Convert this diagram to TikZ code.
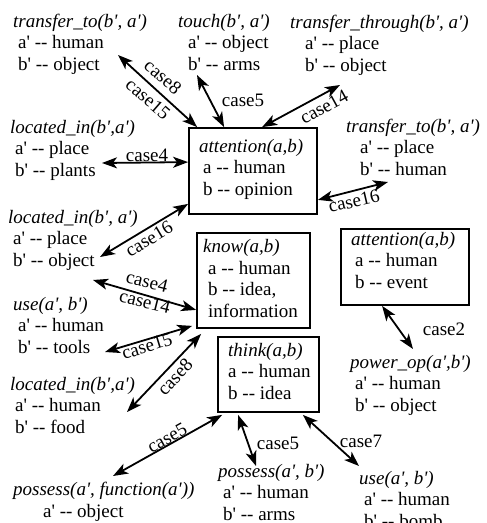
\documentclass[tikz,border=0pt]{standalone}
\usepackage{fontspec}
\setmainfont{Liberation Serif}[Ligatures=TeXOff]
\usetikzlibrary{arrows.meta,calc}

% a multi-line node's base anchor sits on its last line, so each text
% block below is placed by the baseline of its bottom line
\tikzset{
  txt/.style={anchor=base west, align=left, inner sep=0pt,
    font=\fontsize{19}{21.5}\selectfont},
  lbl/.style={inner sep=0pt, font=\fontsize{19}{21.5}\selectfont},
  frame/.style={draw, line width=1.8pt, inner sep=0pt},
  link/.style={line width=1.8pt,
    {Stealth[length=15pt,width=11pt,inset=4pt]}-{Stealth[length=15pt,width=11pt,inset=4pt]}},
}
\newcommand\fn[1]{\textit{#1}}
\newcommand\ind[1]{\hspace*{#1pt}}

\begin{document}
\begin{tikzpicture}[x=1pt,y=-1pt]
\useasboundingbox[fill=white] (0,0) rectangle (487,523);

% framed concept boxes
\node[frame, minimum width=128pt, minimum height=86pt] (att)   at (253,171)   {};
\node[frame, minimum width=113pt, minimum height=95pt] (know)  at (253.5,280.5) {};
\node[frame, minimum width=128pt, minimum height=76pt] (att2)  at (405,267)   {};
\node[frame, minimum width=101pt, minimum height=75pt] (think) at (268.5,374.5) {};

% box contents
\node[txt] (attT)   at (199,195) {\fn{attention(a,b)}\\\ind{4}a -- human\\\ind{4}b -- opinion};
\node[txt] (knowT)  at (203,317) {\fn{know(a,b)}\\\ind{5}a -- human\\\ind{5}b -- idea,\\\ind{5}information};
\node[txt] (att2T)  at (351,288) {\fn{attention(a,b)}\\\ind{4}a -- human\\\ind{4}b -- event};
\node[txt] (thinkT) at (228,399) {\fn{think(a,b)}\\a -- human\\b -- idea};

% surrounding relations
\node[txt] (t1)  at (13,70)   {\fn{transfer\_to(b', a')}\\\ind{5}a' -- human\\\ind{5}b' -- object};
\node[txt] (t2)  at (178,70)  {\fn{touch(b', a')}\\\ind{10}a' -- object\\\ind{10}b' -- arms};
\node[txt] (t3)  at (290,71)  {\fn{transfer\_through(b', a')}\\\ind{15}a' -- place\\\ind{15}b' -- object};
\node[txt] (t4)  at (10,176)  {\fn{located\_in(b',a')}\\\ind{5}a' -- place\\\ind{5}b' -- plants};
\node[txt] (t5)  at (346,175) {\fn{transfer\_to(b', a')}\\\ind{14}a' -- place\\\ind{14}b' -- human};
\node[txt] (t6)  at (8,266)   {\fn{located\_in(b', a')}\\\ind{5}a' -- place\\\ind{5}b' -- object};
\node[txt] (t7)  at (13,353)  {\fn{use(a', b')}\\\ind{5}a' -- human\\\ind{5}b' -- tools};
\node[txt] (t8)  at (10,433)  {\fn{located\_in(b',a')}\\\ind{5}a' -- human\\\ind{5}b' -- food};
\node[txt] (t9)  at (13,517)  {\fn{possess(a', function(a'))}\\\ind{30}a' -- object};
\node[txt] (t10) at (218,520) {\fn{possess(a', b')}\\\ind{5}a' -- human\\\ind{5}b' -- arms};
\node[txt] (t11) at (359,527) {\fn{use(a', b')}\\\ind{5}a' -- human\\\ind{5}b' -- bomb};
\node[txt] (t12) at (350,411) {\fn{power\_op(a',b')}\\\ind{5}a' -- human\\\ind{5}b' -- object};

% outer ends of the case links
\coordinate (e1)  at (118,55);
\coordinate (e2)  at (197,75);
\coordinate (e3)  at (340,85);
\coordinate (e4)  at (102,163);
\coordinate (e5)  at (388,182);
\coordinate (e6)  at (100,257);
\coordinate (e7)  at (93,280);
\coordinate (e8)  at (105,352);
\coordinate (e9)  at (127,412);
\coordinate (e10) at (113,476);
\coordinate (e11) at (256,466);
\coordinate (e12) at (359,466);
\coordinate (e13) at (413,349);

% case links
\draw[link] (e1)  -- ($(att.north west)+(9,0)$);
\draw[link] (e2)  -- ($(att.north west)+(36,0)$);
\draw[link] (e3)  -- ($(att.north west)+(74,0)$);
\draw[link] (e4)  -- ($(att.north west)+(0,35)$);
\draw[link] (e5)  -- ($(att.south east)+(0,-15)$);
\draw[link] (e6)  -- ($(att.south west)+(0,-11)$);
\draw[link] (e7)  -- ($(know.south west)+(0,-19)$);
\draw[link] (e8)  -- ($(know.south west)+(-4,-3)$);
\draw[link] (e9)  -- ($(know.south west)+(5,5)$);
\draw[link] (e10) -- ($(think.south west)+(5,2)$);
\draw[link] (e11) -- ($(think.south west)+(21,2)$);
\draw[link] (e12) -- ($(think.south east)+(-17,2)$);
\draw[link] (e13) -- ($(att2.south west)+(42,0)$);

% case labels
\node[lbl, rotate=-41] (l1a) at (163,77)  {case8};
\node[lbl, rotate=-41] (l1b) at (148,99)  {case15};
\node[lbl]             (l2)  at (243,100) {case5};
\node[lbl, rotate=29]  (l3)  at (324,107) {case14};
\node[lbl]             (l4)  at (147,155) {case4};
\node[lbl, rotate=13]  (l5)  at (354,201) {case16};
\node[lbl, rotate=31]  (l6)  at (149,239) {case16};
\node[lbl, rotate=-14] (l7a) at (147,282) {case4};
\node[lbl, rotate=-14] (l7b) at (145,302) {case14};
\node[lbl, rotate=17]  (l8)  at (147,346) {case15};
\node[lbl, rotate=47]  (l9)  at (175,377) {case8};
\node[lbl, rotate=29]  (l10) at (167,438) {case5};
\node[lbl]             (l11) at (278,443) {case5};
\node[lbl]             (l12) at (361,441) {case7};
\node[lbl]             (l13) at (444,329) {case2};
\end{tikzpicture}
\end{document}
